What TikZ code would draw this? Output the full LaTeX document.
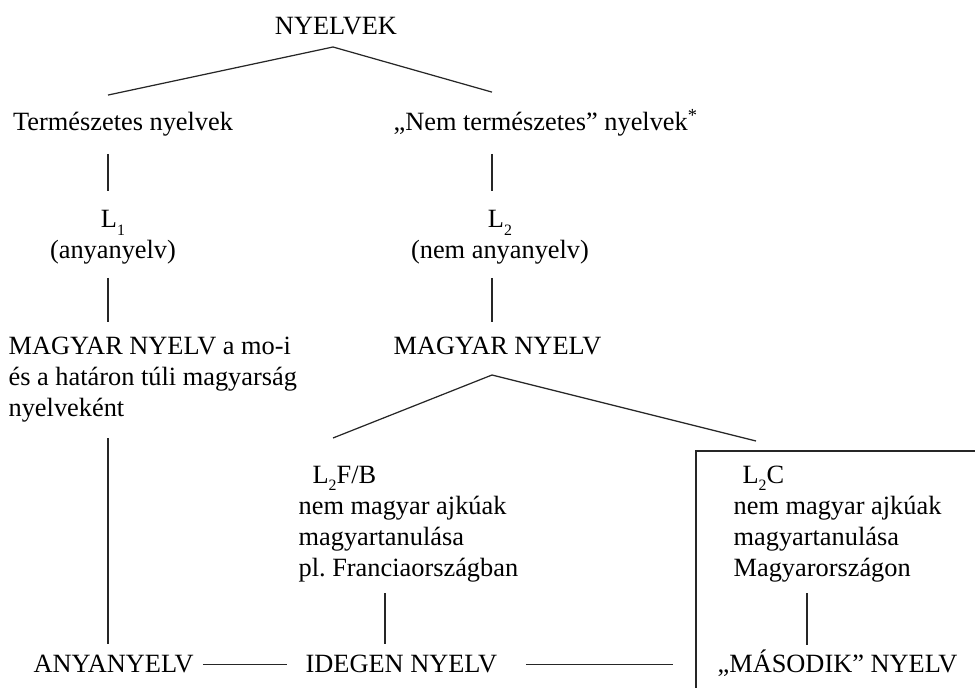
\documentclass[tikz,border=0pt]{standalone}
\usepackage{fontspec}
\setmainfont{Liberation Serif}
\usepackage{tikz}
\tikzstyle{every path}=[line width=0.7pt]
\tikzstyle{lbl}=[inner sep=0pt, font=\fontsize{15pt}{17.65pt}\selectfont]
\tikzstyle{link}=[draw=black!85]
\newcommand{\lsub}[1]{\raisebox{-4pt}{\fontsize{9pt}{9pt}\selectfont #1}}
\frenchspacing

\begin{document}
\begin{tikzpicture}
            \useasboundingbox (0,0) rectangle (19.5,13.76);
            \coordinate (colA) at (2.16,0);
            \coordinate (colB) at (9.84,0);
            \coordinate (colC) at (7.70,0);
            \coordinate (colD) at (16.14,0);
            \node[lbl, anchor=base] (nyelvek) at (6.72, 13.06) {NYELVEK};
            \node[lbl, anchor=base west] (term) at (0.25, 11.14) {Természetes nyelvek};
            \node[lbl, anchor=base west] (nemterm) at (7.86, 11.14) {„Nem természetes” nyelvek\textsuperscript{*}};
            \node[lbl, anchor=base, align=center] (lone) at (2.26, 8.58) {L\lsub{1}\\(anyanyelv)};
            \node[lbl, anchor=base, align=center] (ltwo) at (10.0, 8.58) {L\lsub{2}\\(nem anyanyelv)};
            \node[lbl, anchor=base west, align=left] (magyarone) at (0.16, 5.42) {MAGYAR NYELV a mo-i\\és a határon túli magyarság\\nyelveként};
            \node[lbl, anchor=base] (magyartwo) at (9.95, 6.66) {MAGYAR NYELV};
            \node[lbl, anchor=base west, align=left] (lfb) at (5.96, 2.22) {\hspace{0.28cm}L\lsub{2}F/B\\nem magyar ajkúak\\magyartanulása\\pl. Franciaországban};
            \node[lbl, anchor=base west, align=left] (lc) at (14.66, 2.22) {\hspace{0.18cm}L\lsub{2}C\\nem magyar ajkúak\\magyartanulása\\Magyarországon};
            \node[lbl, anchor=base west] (anyanyelv) at (0.66, 0.30) {ANYANYELV};
            \node[lbl, anchor=base west] (idegen) at (6.10, 0.30) {IDEGEN NYELV};
            \node[lbl, anchor=base west] (masodik) at (14.34, 0.30) {„MÁSODIK” NYELV};
            \coordinate (apexone) at (6.66, 12.82);
            \coordinate (apextwo) at (9.84, 6.26);
            \coordinate (fbend) at (6.66, 5.00);
            \coordinate (cend) at (15.12, 4.94);
            % tree lines
            \draw[link] ([yshift=0.34cm]term.north -| colA) -- (apexone) -- ([yshift=0.34cm]nemterm.north -| colB);
            \draw[link, shorten <=0.33cm, shorten >=0.39cm] (term.south -| colA) -- (lone.north -| colA);
            \draw[link, shorten <=0.33cm, shorten >=0.39cm] (nemterm.south -| colB) -- (ltwo.north -| colB);
            \draw[link, shorten <=0.25cm, shorten >=0.29cm] (lone.south -| colA) -- (magyarone.north -| colA);
            \draw[link, shorten <=0.25cm, shorten >=0.30cm] (ltwo.south -| colB) -- (magyartwo.north -| colB);
            \draw[link, shorten <=0.30cm, shorten >=0.21cm] (magyarone.south -| colA) -- (anyanyelv.north -| colA);
            \draw[link] (fbend) -- (apextwo) -- (cend);
            \draw[link, shorten <=0.20cm, shorten >=0.21cm] (lfb.south -| colC) -- (idegen.north -| colC);
            \draw[link, shorten <=0.20cm, shorten >=0.10cm] (lc.south -| colD) -- (masodik.north -| colD);
            \draw[link, shorten <=0.17cm, shorten >=0.36cm] (anyanyelv.east) -- (anyanyelv.east -| idegen.west);
            \draw[link, shorten <=0.56cm, shorten >=0.88cm] (idegen.east) -- (idegen.east -| masodik.west);
            % open frame round L2C
            \draw[link] (13.92,0) |- (19.5,4.74);
        \end{tikzpicture}
\end{document}
